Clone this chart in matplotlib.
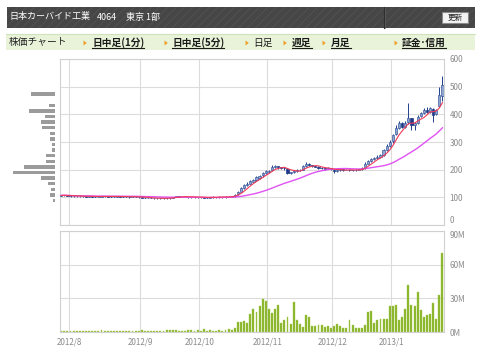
import numpy as np
import pandas as pd
import matplotlib
matplotlib.use('Agg')
import matplotlib.pyplot as plt
from matplotlib.patches import Rectangle, Polygon

plt.rcParams['font.family'] = ['Noto Sans CJK JP', 'DejaVu Sans']
plt.rcParams['hatch.linewidth'] = 0.6

# header / menu texts
title_name = '日本カーバイド工業'
title_code = '4064'
title_market = '東京 1部'
button_label = '更新'
menu_label = '株価チャート'
menu_items = ['日中足(1分)', '日中足(5分)', '日足', '週足', '月足', '証金･信用']
menu_links = [True, True, False, True, True, True]

# trading days
holidays = ['2012-09-17', '2012-10-08', '2012-11-23', '2012-12-24', '2012-12-31',
            '2013-01-01', '2013-01-02', '2013-01-03', '2013-01-14']
dates = pd.bdate_range('2012-07-27', '2013-01-29')
dates = dates[~dates.isin(pd.to_datetime(holidays))]

# daily prices (yen), Jul 27 2012 .. Jan 29 2013
open_ = [106, 107, 108,
         106, 105, 104, 104, 105, 104, 103, 104, 103, 102, 103, 104, 104, 103, 102, 103, 104, 103, 102, 102, 101, 103, 102,
         101, 99, 98, 99, 97, 96, 96, 97, 96, 97, 98, 101, 104, 103, 102, 102, 101, 102, 101,
         100, 101, 99, 98, 101, 102, 101, 102, 101, 102, 103, 104, 111, 121, 133, 144, 150, 157, 164, 171, 179, 188,
         192, 197, 210, 213, 208, 206, 204, 188, 192, 195, 198, 200, 212, 222, 216, 213, 210, 207, 205, 203, 206,
         200, 194, 198, 201, 199, 200, 198, 197, 199, 202, 206, 222, 232, 238, 242, 246, 254, 270, 286,
         302, 330, 352, 368, 356, 372, 385, 360, 370, 393, 404, 416, 410, 420, 400, 430, 468]
close = [107, 108, 106,
         105, 104, 104, 105, 104, 103, 104, 103, 102, 103, 104, 104, 103, 102, 103, 104, 103, 102, 102, 101, 103, 102, 101,
         99, 98, 99, 97, 96, 96, 97, 96, 97, 98, 101, 104, 103, 102, 102, 101, 102, 101, 100,
         101, 99, 98, 101, 102, 101, 102, 101, 102, 103, 104, 110, 120, 132, 145, 150, 158, 163, 172, 178, 188, 195,
         196, 211, 213, 208, 206, 205, 188, 192, 195, 198, 200, 212, 222, 216, 213, 210, 207, 205, 203, 206, 202,
         194, 198, 201, 199, 200, 198, 197, 199, 202, 205, 222, 232, 238, 242, 246, 253, 270, 285, 301,
         325, 350, 368, 355, 370, 386, 362, 368, 392, 404, 415, 410, 422, 398, 415, 470, 506]
high = [109, 110, 109,
        107, 106, 106, 107, 106, 105, 106, 105, 104, 105, 106, 106, 105, 104, 105, 106, 105, 104, 104, 103, 105, 104, 103,
        102, 100, 100, 100, 98, 97, 98, 98, 98, 99, 102, 106, 105, 104, 104, 103, 103, 103, 102,
        102, 102, 100, 102, 104, 103, 104, 103, 104, 105, 106, 113, 124, 136, 150, 155, 162, 168, 176, 182, 192, 199,
        200, 216, 218, 214, 210, 208, 206, 192, 197, 201, 204, 216, 228, 224, 217, 214, 212, 209, 207, 209, 207,
        203, 200, 204, 203, 203, 202, 200, 201, 204, 208, 226, 236, 242, 246, 252, 258, 276, 292, 308,
        330, 360, 376, 372, 375, 440, 388, 372, 398, 410, 422, 425, 428, 424, 418, 500, 540]
low = [105, 106, 105,
       103, 102, 102, 103, 102, 101, 102, 101, 100, 101, 102, 102, 101, 100, 101, 102, 101, 100, 100, 99, 100, 100, 99,
       97, 96, 97, 96, 94, 94, 95, 94, 94, 95, 96, 100, 101, 100, 100, 99, 99, 99, 98,
       98, 97, 96, 97, 99, 99, 99, 99, 99, 100, 101, 103, 108, 118, 130, 141, 147, 154, 160, 168, 175, 185,
       188, 194, 206, 204, 202, 200, 185, 185, 189, 192, 195, 198, 210, 213, 210, 208, 204, 202, 200, 201, 199,
       188, 192, 196, 196, 197, 195, 194, 195, 197, 200, 204, 220, 229, 235, 239, 243, 250, 266, 282,
       298, 326, 348, 350, 352, 365, 345, 342, 365, 390, 400, 404, 406, 373, 396, 425, 450]

# daily volume (million shares)
volume_m = [1.2, 1.0, 1.1,
            1.0, 1.1, 1.0, 0.9, 1.0, 1.1, 1.0, 1.0, 1.0, 1.2, 2.0, 1.0, 1.0, 0.9, 1.0, 1.0, 1.1, 1.0, 1.0, 0.9, 1.0, 1.1, 1.0,
            2.0, 1.0, 1.0, 1.1, 1.0, 1.0, 1.0, 1.2, 1.5, 2.2, 1.6, 2.0, 1.0, 1.0, 1.0, 1.5, 2.0, 1.0, 2.0,
            1.2, 2.7, 1.0, 2.0, 1.0, 1.0, 2.0, 1.0, 1.5, 2.5, 1.5, 4.0, 8.6,
            9.0, 9.5, 8.3, 15.8, 20.9, 17.6, 23.0, 29.5, 27.4,
            20.3, 16.7, 20.9, 24.4, 8.0, 10.4, 13.4, 6.9, 26.8, 10.4, 7.5, 4.2, 14.9, 13.4, 5.4, 5.4, 6.0, 6.0, 4.5, 5.0, 3.6,
            5.0, 7.2, 5.0, 3.3, 3.3, 10.4, 6.0, 3.9, 3.3, 3.6, 6.0, 17.9, 19.0, 8.0, 11.0, 11.9, 11.9, 11.3, 23.5,
            23.5, 23.8, 10.7, 13.4, 20.9, 42.3, 23.8, 22.9, 35.5, 19.4, 13.4, 15.5, 15.8, 25.6, 11.6, 33.1, 70.3]

# volume-by-price profile on the left
profile_price = [89, 109, 129, 150, 170, 190, 210, 230, 251, 271, 291, 311, 331, 352, 372, 392, 412, 432, 453, 473]
profile_size = [1.7, 5.3, 4.0, 7.3, 14.3, 41.7, 31.0, 9.3, 9.3, 2.7, 3.3, 5.3, 5.3, 13.0, 14.3, 10.0, 26.0, 6.0, 0.0, 24.3]

price_ticks = [0, 100, 200, 300, 400, 500, 600]
volume_ticks = [0, 30, 60, 90]

df = pd.DataFrame({'open': open_, 'high': high, 'low': low, 'close': close, 'vol': volume_m}, index=dates)
df['ma5'] = df['close'].rolling(5, min_periods=1).mean()
df['ma25'] = df['close'].rolling(25, min_periods=1).mean()
x = np.arange(len(df))
month_start = np.where(df.index.month != np.roll(df.index.month, 1))[0][1:]
month_labels = [f'{d.year}/{d.month}' for d in df.index[month_start]]

W, H = 480, 357
fig = plt.figure(figsize=(W / 100, H / 100), dpi=100)
bg = fig.add_axes([0, 0, 1, 1])
bg.set_xlim(0, W)
bg.set_ylim(H, 0)
bg.axis('off')


def px_axes(l, t, r, b):
    return fig.add_axes([l / W, 1 - b / H, (r - l) / W, (b - t) / H])


# header bar
bg.add_patch(Rectangle((6.5, 6.5), 468, 21, facecolor='#464646', edgecolor='#535353',
                       hatch='////', lw=0))
bg.plot([384, 384], [6.5, 27.5], color='#2f2f2f', lw=0.8)
bg.plot([385, 385], [6.5, 27.5], color='#5e5e5e', lw=0.5)
bg.add_patch(Rectangle((442, 12), 26, 11, facecolor='#f4f4f4', edgecolor='#8a8a8a', lw=0.8))
bg.text(455, 17.6, button_label, fontsize=5.5, color='#222222', ha='center', va='center')
bg.text(9, 17, title_name, fontsize=6.5, color='white', va='center')
bg.text(97, 17, title_code, fontsize=6.5, color='white', va='center')
bg.text(126, 17, title_market, fontsize=6.5, color='white', va='center')

# menu bar
bg.add_patch(Rectangle((5.5, 33.5), 469, 16.5, facecolor='#e8f3d9', edgecolor='none'))
bg.plot([5.5, 474.5], [33.5, 33.5], color='#cfe2b8', lw=0.8)
bg.text(9, 42.5, menu_label, fontsize=7, color='#222222', va='center')
tri_x = [85, 166, 247, 285, 324, 396]
txt_x = [92, 172, 253, 292, 331, 402]
menu_texts = []
for tx, ix, item, link in zip(tri_x, txt_x, menu_items, menu_links):
    bg.add_patch(Polygon([(tx - 1.5, 40.5), (tx - 1.5, 45.5), (tx + 1.8, 43)], closed=True,
                         facecolor='#f0a028', edgecolor='none'))
    t = bg.text(ix, 42.5, item, fontsize=7, color='#1a1a1a', va='center',
                fontweight='bold' if link else 'normal')
    menu_texts.append((t, link))

# price panel
ax = px_axes(60, 59, 444, 225)
up = df['close'] >= df['open']
ax.vlines(x, df['low'], df['high'], color='#22408c', lw=0.7, zorder=3)
ax.bar(x[up], (df['close'] - df['open'])[up], bottom=df['open'][up], width=0.72,
       color='#8fa6cf', edgecolor='#3d5ba0', lw=0.5, zorder=4)
ax.bar(x[~up], (df['open'] - df['close'])[~up], bottom=df['close'][~up], width=0.72,
       color='#1e3a88', edgecolor='#1e3a88', lw=0.5, zorder=4)
ax.plot(x, df['ma25'], color='#e052f2', lw=1.0, zorder=5)
ax.plot(x, df['ma5'], color='#ef3b58', lw=0.8, zorder=5)

# volume panel
axv = px_axes(60, 231, 444, 332)
axv.bar(x, df['vol'], width=0.62, color='#86b226', edgecolor='#a9cc55', lw=0.3)

for a in (ax, axv):
    a.set_xlim(-0.4, len(df) - 0.5)
    a.set_xticks(month_start - 0.5)
    a.grid(True, color='#dcdcdc', lw=0.8)
    a.set_axisbelow(True)
    for s in a.spines.values():
        s.set_color('#d0d0d0')
        s.set_linewidth(0.8)
    a.yaxis.tick_right()
    a.tick_params(axis='both', length=0, labelsize=5.8, labelcolor='#8a8a8a', pad=4)

ax.set_ylim(0, 600)
ax.set_yticks(price_ticks)
ax.set_xticklabels([])
ax.yaxis.get_major_ticks()[0].label2.set_va('bottom')
axv.set_ylim(0, 90)
axv.set_yticks(volume_ticks)
axv.set_yticklabels([f'{v}M' for v in volume_ticks])
axv.yaxis.get_major_ticks()[-1].label2.set_va('top')
axv.set_xticklabels(month_labels)

# volume-by-price profile
axp = px_axes(8, 59, 55, 225)
axp.barh(profile_price, profile_size, height=12.5, color='#9b9b9b')
axp.set_ylim(0, 600)
axp.set_xlim(47, 0)
axp.axis('off')

# underline the linked menu items
fig.canvas.draw()
r = fig.canvas.get_renderer()
inv = bg.transData.inverted()
for t, link in menu_texts:
    if not link:
        continue
    bb = t.get_window_extent(r)
    (x0, _), (x1, _) = inv.transform([(bb.x0, bb.y0), (bb.x1, bb.y1)])
    bg.plot([x0, x1], [48, 48], color='#1a1a1a', lw=0.8)

fig.savefig('out.png', dpi=100)
